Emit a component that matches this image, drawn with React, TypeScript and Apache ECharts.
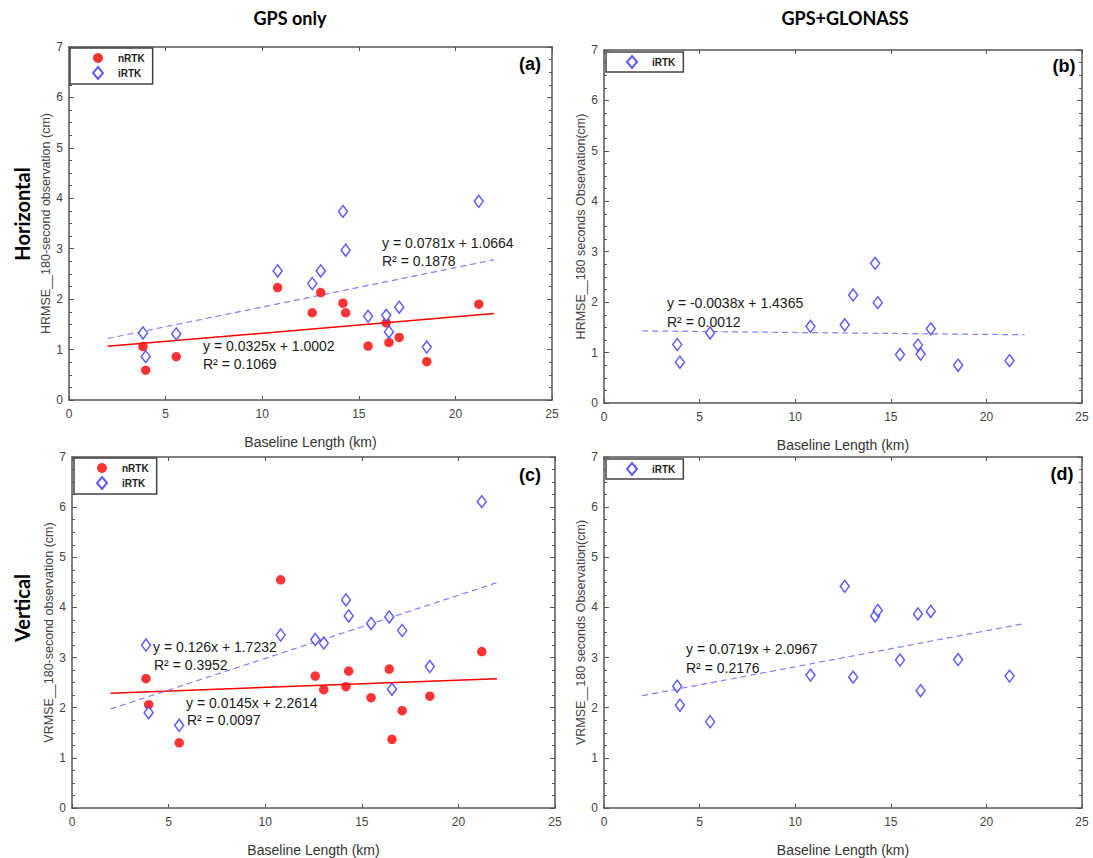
import React, { useEffect, useRef } from "react";
import * as echarts from "echarts";

// Baseline lengths (km) of the 14 test baselines
const baseline = [3.83, 3.97, 5.55, 10.8, 12.59, 13.03, 14.18, 14.32, 15.48, 16.42, 16.56, 17.09, 18.52, 21.21];

// Horizontal RMSE (cm)
const hNrtkGps = [1.06, 0.59, 0.86, 2.23, 1.73, 2.13, 1.92, 1.73, 1.07, 1.53, 1.14, 1.24, 0.76, 1.9];
const hIrtkGps = [1.33, 0.86, 1.31, 2.56, 2.31, 2.56, 3.74, 2.97, 1.66, 1.68, 1.35, 1.84, 1.05, 3.94];
const hIrtkGlo = [1.16, 0.81, 1.39, 1.52, 1.55, 2.14, 2.77, 1.99, 0.96, 1.15, 0.97, 1.47, 0.75, 0.84];

// Vertical RMSE (cm)
const vNrtkGps = [2.58, 2.06, 1.3, 4.55, 2.63, 2.36, 2.42, 2.73, 2.2, 2.77, 1.37, 1.94, 2.23, 3.12];
const vIrtkGps = [3.25, 1.9, 1.65, 3.45, 3.36, 3.29, 4.15, 3.83, 3.68, 3.81, 2.37, 3.54, 2.82, 6.11];
const vIrtkGlo = [2.43, 2.05, 1.72, 2.65, 4.42, 2.61, 3.83, 3.94, 2.95, 3.87, 2.34, 3.92, 2.96, 2.63];

// Trend-line end points (x = 2 km and x = 22 km)
const trendX = [2, 22];
const hNrtkGpsFit = [1.065, 1.715];
const hIrtkGpsFit = [1.22, 2.78];
const hIrtkGloFit = [1.429, 1.353];
const vNrtkGpsFit = [2.29, 2.58];
const vIrtkGpsFit = [1.975, 4.495];
const vIrtkGloFit = [2.24, 3.68];

// Axis ticks
const xTicks = { min: 0, max: 25, interval: 5 };
const yTicks = { min: 0, max: 7, interval: 1 };

// Texts
const colTitles = ["GPS only", "GPS+GLONASS"];
const rowTitles = ["Horizontal", "Vertical"];
const panelLetters = ["(a)", "(b)", "(c)", "(d)"];
const yNames = [
  "HRMSE__180-second observation (cm)",
  "HRMSE__180 seconds Observation(cm)",
  "VRMSE__180-second observation (cm)",
  "VRMSE__180 seconds Observation(cm)",
];
const xName = "Baseline Length (km)";
const eqA = ["y = 0.0781x + 1.0664", "R² = 0.1878", "y = 0.0325x + 1.0002", "R² = 0.1069"];
const eqB = ["y = -0.0038x + 1.4365", "R² = 0.0012"];
const eqC = ["y = 0.126x + 1.7232", "R² = 0.3952", "y = 0.0145x + 2.2614", "R² = 0.0097"];
const eqD = ["y = 0.0719x + 2.0967", "R² = 0.2176"];

const FONT = "'Liberation Sans', Arial, sans-serif";
const RED = "#ff0000";
const BLUE = "#3434ff";
const BLUE_LINE = "#7f7fff";
const AXIS = "#555";

const grids = [
  { left: 69, top: 47, width: 483, height: 353 },
  { left: 604, top: 50, width: 478, height: 353 },
  { left: 72, top: 457, width: 483, height: 353 },
  { left: 604, top: 457, width: 478, height: 356 },
];

const pts = (ys: number[]) => baseline.map((x, i) => [x, ys[i]]);
const fit = (ys: number[]) => trendX.map((x, i) => [x, ys[i]]);

function buildOption() {
  const xAxes: any[] = [];
  const yAxes: any[] = [];
  grids.forEach((g, i) => {
    const axisLine = { show: true, onZero: false, lineStyle: { color: AXIS, width: 1.5 } };
    xAxes.push({
      type: "value", gridIndex: i, ...xTicks, position: "bottom",
      axisLine, axisTick: { show: true, inside: true, length: 4, lineStyle: { color: AXIS } },
      axisLabel: { color: "#444", fontSize: 12, fontFamily: FONT, margin: 8 },
      splitLine: { show: false },
      name: xName, nameLocation: "middle", nameGap: 35,
      nameTextStyle: { color: "#333", fontSize: 14, fontFamily: FONT },
    });
    xAxes.push({
      type: "value", gridIndex: i, ...xTicks, position: "top",
      axisLine, axisTick: { show: true, inside: true, length: 4, lineStyle: { color: AXIS } },
      axisLabel: { show: false }, splitLine: { show: false },
    });
    const yCommon = {
      type: "value", gridIndex: i, ...yTicks,
      axisLine,
      axisTick: { show: true, inside: true, length: 5, lineStyle: { color: AXIS } },
      minorTick: { show: true, splitNumber: 4, length: 3, lineStyle: { color: AXIS } },
      splitLine: { show: false }, minorSplitLine: { show: false },
    };
    yAxes.push({
      ...yCommon, position: "left",
      axisLabel: { color: "#444", fontSize: 12, fontFamily: FONT, margin: 6 },
      name: yNames[i], nameLocation: "middle", nameRotate: 90, nameGap: 17,
      nameTextStyle: { color: "#444", fontSize: 12.5, fontFamily: FONT },
    });
    yAxes.push({ ...yCommon, position: "right", axisLabel: { show: false } });
  });

  const nrtkStyle = { symbol: "circle", symbolSize: 9.5, itemStyle: { color: RED } };
  const irtkStyle = {
    symbol: "diamond", symbolSize: [9, 12],
    itemStyle: { color: "#fff", borderColor: BLUE, borderWidth: 1.5 },
  };
  const redLine = { color: RED, width: 1.5, type: "solid" };
  const blueLine = { color: BLUE_LINE, width: 1.2, type: [6, 4] };
  const lineSeries = (i: number, data: number[], ls: any) => ({
    type: "line", xAxisIndex: i * 2, yAxisIndex: i * 2, data: fit(data),
    showSymbol: false, symbol: "none", lineStyle: ls, silent: true, z: 1,
  });
  const sc = (i: number, name: string, data: number[], st: any) => ({
    type: "scatter", name, xAxisIndex: i * 2, yAxisIndex: i * 2, data: pts(data), z: 3, ...st,
  });

  const series = [
    lineSeries(0, hNrtkGpsFit, redLine),
    lineSeries(0, hIrtkGpsFit, blueLine),
    sc(0, "nRTK", hNrtkGps, nrtkStyle),
    sc(0, "iRTK", hIrtkGps, irtkStyle),
    lineSeries(1, hIrtkGloFit, blueLine),
    sc(1, "iRTK", hIrtkGlo, irtkStyle),
    lineSeries(2, vNrtkGpsFit, redLine),
    lineSeries(2, vIrtkGpsFit, blueLine),
    sc(2, "nRTK", vNrtkGps, nrtkStyle),
    sc(2, "iRTK", vIrtkGps, irtkStyle),
    lineSeries(3, vIrtkGloFit, blueLine),
    sc(3, "iRTK", vIrtkGlo, irtkStyle),
  ];

  const legendBase = {
    orient: "vertical", itemWidth: 10, itemHeight: 12, itemGap: 3,
    borderColor: "#444", borderWidth: 1.5, backgroundColor: "#fff",
    textStyle: { fontSize: 10, fontWeight: "bold", color: "#222", fontFamily: FONT, padding: [0, 0, 0, 10] },
    selectedMode: false,
  };
  const legends = [
    { ...legendBase, left: 70, top: 48, padding: [5, 8, 4, 22], data: ["nRTK", "iRTK"] },
    { ...legendBase, left: 606, top: 52, padding: [3, 8, 3, 20], data: ["iRTK"] },
    { ...legendBase, left: 74, top: 458, padding: [5, 8, 4, 22], data: ["nRTK", "iRTK"] },
    { ...legendBase, left: 606, top: 459, padding: [3, 8, 3, 20], data: ["iRTK"] },
  ];

  const t = (text: string, x: number, y: number, font: string, extra: any = {}) => ({
    type: "text", x, y, z: 100,
    style: { text, font, fill: "#1a1a1a", textAlign: "left", textVerticalAlign: "middle", ...extra },
  });
  const eqFont = `14px ${FONT}`;
  const letterFont = `bold 18px ${FONT}`;
  const titleFont = "bold 18px Lato, sans-serif";

  const graphic = [
    t(colTitles[0], 290, 18, titleFont, { textAlign: "center", fill: "#000" }),
    t(colTitles[1], 845, 18, titleFont, { textAlign: "center", fill: "#000" }),
    { ...t(rowTitles[0], 22, 214, "bold 20px Lato, sans-serif", { textAlign: "center", fill: "#000" }), rotation: Math.PI / 2 },
    { ...t(rowTitles[1], 22, 608, "bold 20px Lato, sans-serif", { textAlign: "center", fill: "#000" }), rotation: Math.PI / 2 },
    t(panelLetters[0], 530, 64, letterFont, { textAlign: "center", fill: "#000" }),
    t(panelLetters[1], 1064, 66, letterFont, { textAlign: "center", fill: "#000" }),
    t(panelLetters[2], 530, 475, letterFont, { textAlign: "center", fill: "#000" }),
    t(panelLetters[3], 1062, 474, letterFont, { textAlign: "center", fill: "#000" }),
    t(eqA[0], 382, 243, eqFont), t(eqA[1], 382, 261, eqFont),
    t(eqA[2], 203, 346, eqFont), t(eqA[3], 203, 364, eqFont),
    t(eqB[0], 667, 303, eqFont), t(eqB[1], 667, 322, eqFont),
    t(eqC[0], 153, 647, eqFont), t(eqC[1], 154, 665, eqFont),
    t(eqC[2], 186, 703, eqFont), t(eqC[3], 187, 720, eqFont),
    t(eqD[0], 686, 649, eqFont), t(eqD[1], 686, 668, eqFont),
  ];

  return {
    animation: false,
    backgroundColor: "#fff",
    grid: grids.map((g) => ({ ...g, containLabel: false })),
    xAxis: xAxes,
    yAxis: yAxes,
    legend: legends,
    series,
    graphic,
  };
}

export default function App() {
  const ref = useRef<HTMLDivElement>(null);
  useEffect(() => {
    if (!ref.current) return;
    const chart = echarts.init(ref.current, undefined, { renderer: "svg" });
    chart.setOption(buildOption() as any);
    return () => chart.dispose();
  }, []);
  return (
    <div
      ref={ref}
      style={{ position: "absolute", left: 0, top: 0, width: 1093, height: 858, background: "#fff" }}
    />
  );
}
